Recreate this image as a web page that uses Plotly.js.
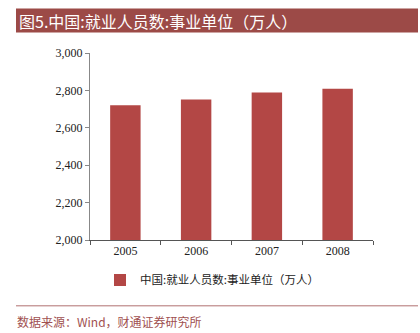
<!DOCTYPE html>
<html><head><meta charset="utf-8">
<script src="https://cdn.plot.ly/plotly-3.0.1.min.js"></script>
<style>html,body{margin:0;padding:0;background:#fff}#c{width:420px;height:333px}</style>
</head><body><div id="c"></div>
<script>
const years = ['2005', '2006', '2007', '2008'];
const values = [2720, 2752, 2789, 2809];
const seriesName = '中国:就业人员数:事业单位（万人）';
const yTicks = [2000, 2200, 2400, 2600, 2800, 3000];
const yTickText = ['2,000', '2,200', '2,400', '2,600', '2,800', '3,000'];

const L = 90, R = 47, T = 52.5, B = 93;
const W = 420 - L - R, H = 333 - T - B;
const px = x => (x - L) / W;
const py = y => (333 - B - y) / H;

const cjk = '"Noto Sans CJK SC", sans-serif';
const serif = '"Liberation Serif", "Times New Roman", serif';

Plotly.newPlot('c', [{
  type: 'bar', x: years, y: values, name: seriesName,
  marker: {color: '#b34745'}, showlegend: true
}], {
  width: 420, height: 333,
  margin: {l: L, r: R, t: T, b: B, pad: 0},
  paper_bgcolor: '#fff', plot_bgcolor: '#fff',
  bargap: 0.57,
  xaxis: {
    type: 'category', showline: true, linecolor: '#555', linewidth: 1,
    ticks: 'outside', ticklen: 4, tickcolor: '#555', tickson: 'boundaries',
    showgrid: false, zeroline: false,
    tickfont: {family: serif, size: 12, color: '#222'}
  },
  yaxis: {
    range: [2000, 3000], tickvals: yTicks, ticktext: yTickText,
    showline: true, linecolor: '#888', linewidth: 1,
    ticks: 'outside', ticklen: 4, tickcolor: '#888',
    showgrid: false, zeroline: false,
    tickfont: {family: serif, size: 12, color: '#222'}
  },
  showlegend: true,
  legend: {
    orientation: 'h', x: px(100), xanchor: 'left', y: py(280), yanchor: 'middle',
    font: {family: cjk, size: 11.5, color: '#222'}, bgcolor: 'rgba(0,0,0,0)'
  },
  shapes: [
    {type: 'rect', xref: 'paper', yref: 'paper', x0: px(16), x1: px(418), y0: py(8), y1: py(32),
     fillcolor: '#9c4a47', line: {width: 0}, layer: 'below'},
    {type: 'line', xref: 'paper', yref: 'paper', x0: px(16), x1: px(418), y0: py(306), y1: py(306),
     line: {color: '#b07070', width: 1}}
  ],
  annotations: [
    {xref: 'paper', yref: 'paper', x: px(17), y: py(20), xanchor: 'left', yanchor: 'middle',
     text: '图5.中国:就业人员数:事业单位（万人）', showarrow: false,
     font: {family: cjk, size: 16, color: '#fff'}},
    {xref: 'paper', yref: 'paper', x: px(15), y: py(322), xanchor: 'left', yanchor: 'middle',
     text: '数据来源：Wind，财通证券研究所', showarrow: false,
     font: {family: cjk, size: 12, color: '#a05050'}}
  ]
}, {displayModeBar: false, staticPlot: true});
</script></body></html>
